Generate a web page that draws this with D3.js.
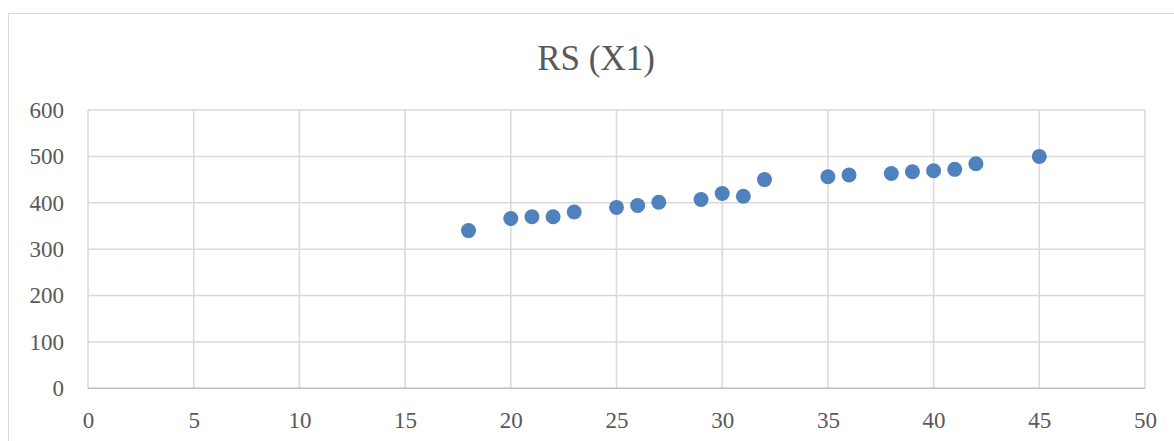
<!DOCTYPE html>
<html><head><meta charset="utf-8">
<script src="https://cdn.jsdelivr.net/npm/d3@7/dist/d3.min.js"></script>
<style>body{margin:0;background:#fff}svg{display:block}</style>
</head><body>
<svg id="c" width="1174" height="441"></svg>
<script>
const title = "RS (X1)";
const xValues = [18,20,21,22,23,25,26,27,29,30,31,32,35,36,38,39,40,41,42,45];
const yValues = [340,366,370,370,380,390,394,401,407,420,414,450,456,460,463,467,469,472,484,500];
const xTicks = [0,5,10,15,20,25,30,35,40,45,50];
const yTicks = [0,100,200,300,400,500,600];

const svg = d3.select("#c");
const font = "'Liberation Serif', serif";
svg.append("rect").attr("x",8.5).attr("y",13.5).attr("width",1180).attr("height",440)
  .attr("fill","#fff").attr("stroke","#d9d9d9").attr("stroke-width",1);

const x = d3.scaleLinear().domain([0,50]).range([88,1145]);
const y = d3.scaleLinear().domain([0,600]).range([388.3,110]);

const g = svg.append("g");
g.selectAll(".vg").data(xTicks).join("line")
  .attr("x1",d=>x(d)).attr("x2",d=>x(d)).attr("y1",y(600)).attr("y2",y(0))
  .attr("stroke","#d9d9d9").attr("stroke-width",1.5);
g.selectAll(".hg").data(yTicks).join("line")
  .attr("x1",x(0)).attr("x2",x(50)).attr("y1",d=>y(d)).attr("y2",d=>y(d))
  .attr("stroke",d=>d===0?"#bfbfbf":"#d9d9d9").attr("stroke-width",1.5);

const xAxis = svg.append("g").attr("transform",`translate(0,${y(0)})`)
  .call(d3.axisBottom(x).tickValues(xTicks).tickSize(0).tickPadding(23));
const yAxis = svg.append("g").attr("transform",`translate(${x(0)},0)`)
  .call(d3.axisLeft(y).tickValues(yTicks).tickSize(0).tickPadding(24));
[xAxis,yAxis].forEach(a=>{
  a.select(".domain").remove();
  a.selectAll("text").attr("font-family",font).attr("font-size",23).attr("fill","#595959");
});

svg.append("g").selectAll("circle").data(xValues.map((d,i)=>[d,yValues[i]])).join("circle")
  .attr("cx",d=>x(d[0])).attr("cy",d=>y(d[1])).attr("r",7.5)
  .attr("fill","#4f81bd");

svg.append("text").attr("x",596).attr("y",70).attr("text-anchor","middle")
  .attr("font-family",font).attr("font-size",35).attr("fill","#595959").text(title);
</script>
</body></html>
